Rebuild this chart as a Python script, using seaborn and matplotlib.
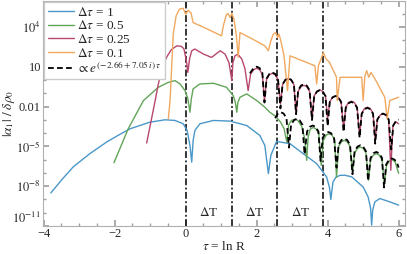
import numpy as np
import pandas as pd
import matplotlib
matplotlib.use("Agg")
import matplotlib.pyplot as plt
import matplotlib.ticker as mticker
import seaborn as sns

# samples: tau and log10(|alpha_1| / delta rho_0)
blue_tau = [-3.80, -3.48, -3.17, -2.70, -2.23, -1.91, -1.57, -1.01, -0.58, -0.30,
            -0.07, 0.04, 0.12, 0.17, 0.21, 0.26, 0.40, 0.78, 1.25, 1.72,
            2.09, 2.23, 2.33, 2.40, 2.56, 2.94, 3.31, 3.69, 3.97, 4.05,
            4.09, 4.15, 4.23, 4.35, 4.49, 4.68, 5.00, 5.14, 5.21, 5.24,
            5.27, 5.33, 5.47, 5.75, 6.00]
blue_log = [-8.51, -7.48, -6.55, -5.55, -4.68, -4.18, -3.68, -3.18, -3.00, -3.05,
            -3.30, -3.80, -4.93, -6.18, -4.55, -3.80, -3.30, -3.05, -3.10, -3.43,
            -4.18, -4.93, -7.05, -5.68, -4.63, -4.80, -5.55, -6.30, -7.30, -8.08,
            -9.00, -7.70, -7.33, -7.18, -7.18, -7.30, -8.06, -8.80, -9.65, -10.93,
            -9.80, -9.18, -8.93, -9.18, -9.43]

green_tau = [-2.02, -1.62, -1.19, -0.77, -0.49, -0.30, -0.16, -0.02, 0.06, 0.12,
             0.16, 0.21, 0.40, 0.78, 1.15, 1.34, 1.40, 1.44, 1.47, 1.53,
             1.72, 2.00, 2.23, 2.37, 2.54, 2.68, 2.77, 2.85, 2.90, 2.98,
             3.08, 3.16, 3.27, 3.36, 3.41, 3.45, 3.51, 3.59, 3.67, 3.75,
             3.82, 3.88, 3.96, 4.04, 4.12, 4.20, 4.25, 4.31, 4.39, 4.47,
             4.55, 4.63, 4.70, 4.76, 4.84, 4.92, 5.00, 5.08, 5.15, 5.21,
             5.29, 5.37, 5.45, 5.53, 5.60, 5.66, 5.74, 5.82, 5.90, 6.00]
green_log = [-6.23, -3.68, -1.55, -0.55, -0.18, -0.05, -0.30, -0.80, -1.40, -2.43,
             -1.40, -0.67, -0.30, -0.25, -0.55, -1.18, -1.70, -2.43, -1.70, -1.30,
             -1.05, -1.55, -2.05, -2.43, -2.75, -3.20, -3.65, -4.68, -3.40, -3.05,
             -2.95, -3.05, -3.50, -4.50, -6.05, -4.30, -3.70, -3.58, -3.68, -4.05,
             -6.43, -4.55, -4.15, -4.05, -4.15, -4.50, -7.33, -5.00, -4.65, -4.55,
             -4.65, -5.00, -6.95, -5.50, -5.15, -5.05, -5.15, -5.50, -7.55, -6.00,
             -5.65, -5.55, -5.65, -6.00, -7.85, -6.45, -6.10, -6.02, -6.15, -7.03]

red_tau = [-1.10, -1.00, -0.86, -0.77, -0.67, -0.54, -0.41, -0.25, -0.13, -0.05,
           0.02, 0.06, 0.11, 0.17, 0.26, 0.50, 0.73, 0.97, 1.11, 1.22,
           1.30, 1.33, 1.39, 1.47, 1.58, 1.67, 1.76, 1.83, 1.92, 2.00,
           2.08, 2.16, 2.22, 2.28, 2.36, 2.44, 2.52, 2.60, 2.67, 2.73,
           2.81, 2.89, 2.97, 3.05, 3.11, 3.17, 3.25, 3.33, 3.41, 3.49,
           3.56, 3.62, 3.70, 3.78, 3.86, 3.94, 4.00, 4.06, 4.14, 4.22,
           4.30, 4.38, 4.45, 4.51, 4.59, 4.67, 4.75, 4.83, 4.90, 4.96,
           5.04, 5.12, 5.20, 5.28, 5.34, 5.40, 5.48, 5.56, 5.64, 5.72,
           5.78, 5.84, 5.92, 6.00]
red_log = [-4.75, -3.43, -1.55, -0.30, 0.85, 1.70, 2.27, 2.57, 2.54, 2.35,
           1.45, 0.57, 1.60, 2.20, 2.33, 1.95, 1.70, 2.20, 1.95, 1.30,
           -0.05, 1.30, 1.82, 1.94, 1.58, 0.85, -0.80, 0.45, 0.78, 0.88,
           0.78, 0.43, -1.55, 0.05, 0.40, 0.50, 0.40, 0.05, -1.80, -0.35,
           0.00, 0.10, 0.00, -0.35, -2.55, -0.85, -0.50, -0.40, -0.50, -0.85,
           -2.95, -1.20, -0.85, -0.75, -0.85, -1.20, -2.95, -1.65, -1.30, -1.20,
           -1.30, -1.65, -3.70, -2.05, -1.70, -1.60, -1.70, -2.05, -4.20, -2.50,
           -2.15, -2.05, -2.15, -2.50, -4.55, -3.00, -2.65, -2.55, -2.65, -3.00,
           -6.80, -3.45, -3.15, -3.30]

orange_tau = [-0.49, -0.44, -0.35, -0.27, -0.18, -0.07, 0.00, 0.07, 0.15, 0.21,
              0.60, 1.01, 1.06, 1.15, 1.20, 1.25, 1.30, 1.36, 1.43, 1.48,
              1.53, 1.87, 2.23, 2.33, 2.40, 2.47, 2.54, 2.59, 2.63, 2.68,
              2.77, 2.87, 2.94, 3.22, 3.64, 3.69, 3.74, 3.83, 3.88, 3.95,
              4.06, 4.25, 4.27, 4.35, 4.63, 4.96, 5.00, 5.05, 5.10, 5.16,
              5.22, 5.33, 5.61, 5.68, 5.75, 6.00]
orange_log = [-2.93, -1.55, 3.47, 4.82, 5.33, 5.40, 4.95, 5.25, 5.05, 4.32,
              3.85, 3.32, 4.07, 4.95, 5.00, 4.70, 5.00, 4.60, 3.32, 1.70,
              3.57, 3.10, 2.57, 2.20, 2.95, 3.45, 3.57, 3.20, 3.45, 2.95,
              1.82, -0.80, 1.82, 1.52, 1.07, -0.30, 1.07, 1.70, 2.07, 1.60,
              1.30, 0.20, -1.55, 0.20, 0.20, 0.20, -1.55, 0.32, 0.70, 0.20,
              0.57, 0.10, -1.30, -2.93, -1.55, -1.30]

# quasinormal-mode fits (dashed), upper one on the 0.25 run, lower one on the 0.5 run
fit_hi_tau = [1.81, 1.84, 1.92, 2.00, 2.08, 2.16, 2.22, 2.28, 2.36, 2.44,
              2.52, 2.60, 2.67, 2.73, 2.81, 2.89, 2.97, 3.05, 3.11, 3.17,
              3.25, 3.33, 3.41, 3.49, 3.56, 3.62, 3.70, 3.78, 3.86, 3.94,
              4.00, 4.06, 4.14, 4.22, 4.30, 4.38, 4.45, 4.51, 4.59, 4.67,
              4.75, 4.83, 4.90, 4.96, 5.04, 5.12, 5.20, 5.28, 5.34, 5.40,
              5.48, 5.56, 5.64, 5.72, 5.79, 5.85, 5.93, 6.00]
fit_hi_log = [0.50, 0.62, 0.90, 1.00, 0.90, 0.55, -1.70, 0.11, 0.46, 0.56,
              0.46, 0.11, -2.14, -0.33, 0.02, 0.12, 0.02, -0.33, -2.58, -0.77,
              -0.42, -0.32, -0.42, -0.77, -3.02, -1.22, -0.87, -0.77, -0.87, -1.22,
              -3.47, -1.66, -1.31, -1.21, -1.31, -1.66, -3.91, -2.10, -1.75, -1.65,
              -1.75, -2.10, -4.35, -2.55, -2.20, -2.10, -2.20, -2.55, -4.80, -2.98,
              -2.63, -2.53, -2.63, -2.98, -5.23, -3.42, -3.07, -2.98]

fit_lo_tau = [2.52, 2.60, 2.68, 2.76, 2.84, 2.91, 2.97, 3.05, 3.13, 3.21,
              3.29, 3.35, 3.42, 3.50, 3.58, 3.66, 3.74, 3.80, 3.86, 3.94,
              4.02, 4.10, 4.18, 4.25, 4.31, 4.39, 4.47, 4.55, 4.63, 4.70,
              4.76, 4.84, 4.92, 5.00, 5.08, 5.14, 5.21, 5.29, 5.37, 5.45,
              5.53, 5.59, 5.65, 5.73, 5.81, 5.89, 5.97, 6.00]
fit_lo_log = [-2.88, -2.53, -2.43, -2.53, -2.88, -5.10, -3.38, -3.03, -2.93, -3.03,
              -3.38, -5.60, -3.88, -3.53, -3.43, -3.53, -3.88, -6.10, -4.37, -4.02,
              -3.92, -4.02, -4.37, -6.60, -4.87, -4.52, -4.42, -4.52, -4.87, -7.10,
              -5.37, -5.02, -4.92, -5.02, -5.37, -7.60, -5.87, -5.52, -5.42, -5.52,
              -5.87, -8.10, -6.36, -6.01, -5.91, -6.01, -6.36, -6.60]

# light-crossing times (dash-dot lines)
crossing_tau = [0.0, 1.30, 2.58, 3.88]

labels = [r"$\Delta\tau$ = 1", r"$\Delta\tau$ = 0.5", r"$\Delta\tau$ = 0.25",
          r"$\Delta\tau$ = 0.1", r"$\propto e^{(-2.66+7.05\,i)\,\tau}$"]
colors = ["#4a98c9", "#62a55a", "#b8476e", "#f1a95f"]

xtick_vals = [-4, -2, 0, 2, 4, 6]
xtick_labels = ["\u22124", "\u22122", "0", "2", "4", "6"]
ytick_vals = [1e-11, 1e-8, 1e-5, 1e-2, 1e1, 1e4]
ytick_labels = [r"$10^{-11}$", r"$10^{-8}$", r"$10^{-5}$", "0.01", "10", r"$10^{4}$"]

sns.set_theme(style="ticks")
plt.rcParams["font.family"] = ["Liberation Serif", "DejaVu Serif"]
plt.rcParams["mathtext.fontset"] = "stix"

fig = plt.figure(figsize=(4.07, 2.54), dpi=100)
ax = fig.add_axes([0.1057, 0.1102, 0.8894, 0.886])


def draw(tau, logy, color, label=None, **kw):
    df = pd.DataFrame({"tau": tau, "y": np.power(10.0, logy)})
    sns.lineplot(data=df, x="tau", y="y", color=color, label=label,
                 sort=False, estimator=None, ax=ax, **kw)


curves = [(blue_tau, blue_log), (green_tau, green_log),
          (red_tau, red_log), (orange_tau, orange_log)]
for (t, l), c, lab in zip(curves, colors, labels):
    draw(t, l, c, lab, lw=1.0)

draw(fit_hi_tau, fit_hi_log, "black", labels[4], lw=1.3, linestyle=(0, (3.2, 1.8)))
draw(fit_lo_tau, fit_lo_log, "black", None, lw=1.3, linestyle=(0, (3.2, 1.8)))

for t in crossing_tau:
    ax.axvline(t, color="black", lw=1.1, ls=(0, (4.5, 1.6, 1.2, 1.6)), zorder=1)
for a, b in zip(crossing_tau[:-1], crossing_tau[1:]):
    ax.text((a + b) / 2, 1.1e-10, r"$\Delta$T", ha="center", va="center", fontsize=9.5)

ax.set_yscale("log")
ax.set_xlim(-4.02, 6.18)
ax.set_ylim(1e-11, 10 ** 5.95)
ax.xaxis.set_major_locator(mticker.FixedLocator(xtick_vals))
ax.set_xticklabels(xtick_labels)
ax.xaxis.set_minor_locator(mticker.MultipleLocator(0.5))
ax.yaxis.set_major_locator(mticker.FixedLocator(ytick_vals))
ax.set_yticklabels(ytick_labels)
ax.yaxis.set_minor_locator(mticker.FixedLocator([10.0 ** k for k in range(-11, 6)]))
ax.yaxis.set_minor_formatter(mticker.NullFormatter())
ax.tick_params(which="both", direction="in", top=True, right=True,
               color="#a0a0a0", labelsize=9, pad=1.5)
ax.tick_params(which="major", length=4)
ax.tick_params(which="minor", length=2)
ax.get_yticklabels()[0].set_verticalalignment("bottom")
for s in ax.spines.values():
    s.set_color("#b0b0b0")
    s.set_linewidth(0.8)

ax.set_xlabel(r"$\tau$ = ln R", fontsize=9.5, labelpad=0)
ax.set_ylabel(r"$|\alpha_1|\ /\ \delta\rho_0$", fontsize=9.5)
ax.yaxis.set_label_coords(-0.072, 0.5)

handles, _ = ax.get_legend_handles_labels()
ax.legend(handles=handles, labels=labels, loc="upper left", fontsize=9.5,
          frameon=True, fancybox=False, edgecolor="#cccccc", framealpha=1,
          handlelength=2.0, handletextpad=0.25, labelspacing=0.05,
          borderpad=0.25, borderaxespad=0.1)

fig.savefig("out.png", dpi=100)
